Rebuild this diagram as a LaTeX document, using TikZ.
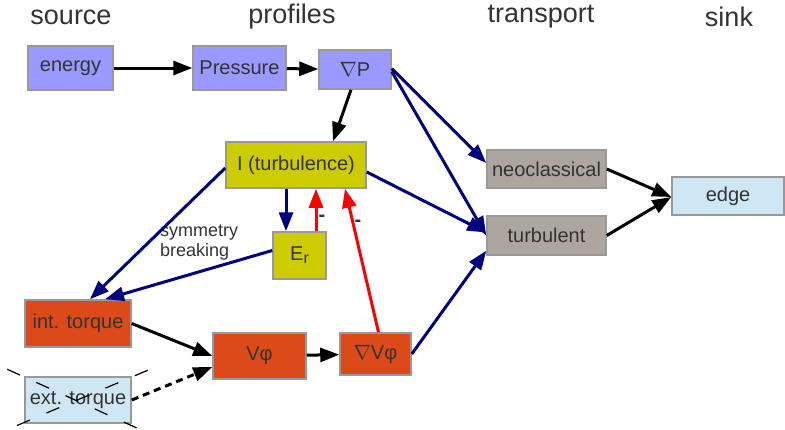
\documentclass[tikz,border=0pt]{standalone}
\usepackage{fontspec}
\setmainfont{Liberation Sans}
\usetikzlibrary{arrows.meta,positioning,shapes}
\usepackage{xcolor}

\definecolor{lavender}{HTML}{9999FF}
\definecolor{olive_yellow}{HTML}{CCCC00}
\definecolor{warm_gray}{HTML}{ADA69E}
\definecolor{pale_blue}{HTML}{CFE7F5}
\definecolor{rust}{HTML}{DD4A19}
\definecolor{navy_line}{HTML}{000080}
\definecolor{text_gray}{HTML}{333333}

\begin{document}
\begin{tikzpicture}[x=1pt, y=-1pt,
    box/.style={
        rectangle,
        inner sep=0pt,
        draw=gray!80,
        line width=1.5pt,
        text=text_gray,
        font=\fontsize{20}{22}\selectfont
    },
    header/.style={
        inner sep=0pt,
        text=text_gray,
        font=\fontsize{27}{30}\selectfont
    },
    sign/.style={
        inner sep=0pt,
        text=text_gray,
        font=\fontsize{20}{22}\selectfont\bfseries
    },
    >={Triangle[length=19pt, width=14pt]},
    black_arrow/.style={->, line width=3pt, black},
    blue_arrow/.style={->, line width=3pt, navy_line},
    red_arrow/.style={->, line width=3pt, red}
]
    \useasboundingbox (0,0) rectangle (785,429);

    % column titles
    \node (title_source) [header, shift={(71, 17)}] {source};
    \node (title_profiles) [header, shift={(292, 17)}] {profiles};
    \node (title_transport) [header, shift={(541, 17)}] {transport};
    \node (title_sink) [header, shift={(729, 17)}] {sink};

    \node (energy) [box, fill=lavender, minimum width=85pt, minimum height=44pt, shift={(70.5, 68)}]
    {
        energy
    };

    \node (pressure) [box, fill=lavender, minimum width=93pt, minimum height=44pt, shift={(239.5, 68)}]
    {
        Pressure
    };

    \node (grad_p) [box, fill=lavender, minimum width=72pt, minimum height=39pt, shift={(355, 69.5)}]
    {
        $\nabla$P
    };

    \node (turbulence) [box, fill=olive_yellow, minimum width=140pt, minimum height=46pt, shift={(296, 165)}]
    {
        I (turbulence)
    };

    \node (e_r) [box, fill=olive_yellow, minimum width=53pt, minimum height=47pt, shift={(299.5, 255.5)}]
    {
        E\raisebox{-3pt}{\fontsize{16}{16}\selectfont r}
    };

    \node (neoclassical) [box, fill=warm_gray, minimum width=119pt, minimum height=38pt, shift={(546.5, 169)}]
    {
        neoclassical
    };

    \node (turbulent) [box, fill=warm_gray, minimum width=119pt, minimum height=39pt, shift={(546.5, 235.5)}]
    {
        turbulent
    };

    \node (edge) [box, fill=pale_blue, minimum width=112pt, minimum height=38pt, shift={(728, 196)}]
    {
        edge
    };

    \node (int_torque) [box, fill=rust, minimum width=106pt, minimum height=47pt, shift={(78, 323.5)}]
    {
        int. torque
    };

    \node (ext_torque) [box, fill=pale_blue, minimum width=106pt, minimum height=46pt, shift={(78, 400)}]
    {
        ext. torque
    };

    \node (v_phi) [box, fill=rust, minimum width=93pt, minimum height=46pt, shift={(259.5, 356)}]
    {
        Vφ
    };

    \node (grad_v_phi) [box, fill=rust, minimum width=71pt, minimum height=42pt, shift={(375.5, 354)}]
    {
        $\nabla$Vφ
    };

    \node (symmetry_breaking) [inner sep=0pt, align=left, text=text_gray, font=\fontsize{18}{20}\selectfont, anchor=west, shift={(160, 243)}]
    {
        symmetry\\breaking
    };

    \node (minus_er) [sign, shift={(322, 218)}] {-};
    \node (minus_v) [sign, shift={(358, 223)}] {-};

    % crossed out
    \draw[black, line width=1.2pt, dash pattern=on 14pt off 18pt]
        ([shift={(-17pt, 7pt)}]ext_torque.north west) -- ([shift={(9pt, -6pt)}]ext_torque.south east);
    \draw[black, line width=1.2pt, dash pattern=on 14pt off 18pt]
        ([shift={(16pt, 6pt)}]ext_torque.north east) -- ([shift={(-15pt, -5pt)}]ext_torque.south west);

    \draw[black_arrow] (energy) to (pressure);
    \draw[black_arrow] (pressure) to (grad_p);
    \draw[black_arrow] ([xshift=-4pt]grad_p.south) to ([xshift=37pt]turbulence.north);
    \draw[black_arrow] (int_torque.east) to (v_phi.west);
    \draw[black_arrow, dash pattern=on 7pt off 5pt] (ext_torque.east) to ([yshift=-11pt]v_phi.west);
    \draw[black_arrow] (v_phi) to (grad_v_phi);
    \draw[black_arrow] (neoclassical.east) to ([yshift=-1pt]edge.west);
    \draw[black_arrow] (turbulent.east) to ([yshift=-1pt]edge.west);

    \draw[blue_arrow] ([yshift=1pt]grad_p.east) to ([yshift=6pt]neoclassical.west);
    \draw[blue_arrow] ([yshift=-2pt]grad_p.east) to (turbulent.west);
    \draw[blue_arrow] ([yshift=-7pt]turbulence.east) to ([yshift=3pt]turbulent.west);
    \draw[blue_arrow] ([yshift=-3pt]turbulence.west) to ([xshift=12pt]int_torque.north);
    \draw[blue_arrow] ([xshift=-13.5pt]e_r.north |- turbulence.south) to ([xshift=-13.5pt]e_r.north);
    \draw[blue_arrow] ([yshift=5pt]e_r.west) to ([xshift=27pt]int_torque.north);
    \draw[blue_arrow] (grad_v_phi.east) to ([yshift=5pt]turbulent.south west);

    \draw[red_arrow] ([xshift=16.5pt]e_r.north) to ([xshift=16.5pt]e_r.north |- turbulence.south);
    \draw[red_arrow] ([xshift=3pt]grad_v_phi.north) to ([xshift=49pt]turbulence.south);
\end{tikzpicture}
\end{document}
